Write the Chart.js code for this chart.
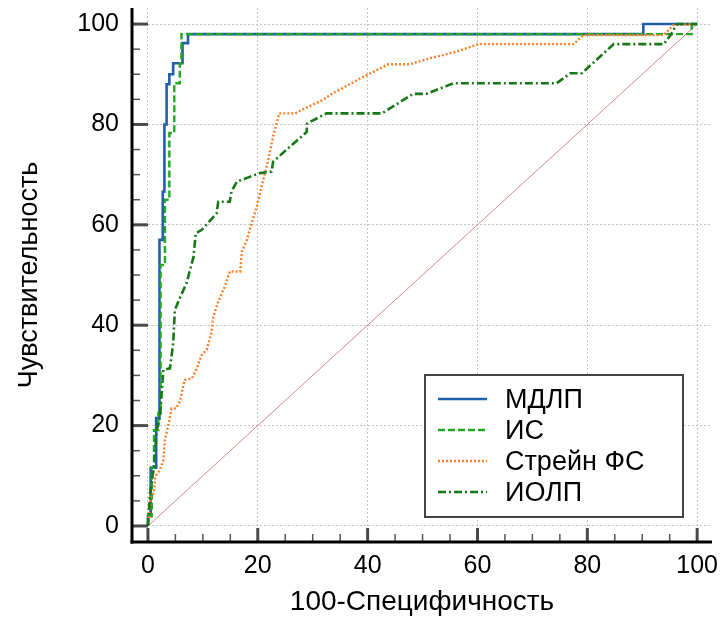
<!DOCTYPE html>
<html><head><meta charset="utf-8">
<script src="https://cdn.jsdelivr.net/npm/chart.js@4"></script>
<style>html,body{margin:0;padding:0;background:#fff}</style>
</head><body>
<canvas id="c" width="722" height="621"></canvas>
<script>
// ---- data ----
const tickValues = [0, 20, 40, 60, 80, 100];
const minorTickValues = [5, 10, 15, 25, 30, 35, 45, 50, 55, 65, 70, 75, 85, 90, 95];

const seriesNames = ['МДЛП', 'ИС', 'Стрейн ФС', 'ИОЛП'];

const mdlpX = [0, 0, 0.5, 0.5, 1.5, 1.5, 2.1, 2.1, 2.7, 2.7, 3.0, 3.0, 3.4, 3.4, 3.9, 3.9, 4.6, 4.6, 6.3, 6.3, 7.3, 7.3, 90.2, 90.2, 100];
const mdlpY = [0, 2, 2, 11.6, 11.6, 21.5, 21.5, 57, 57, 66.6, 66.6, 80, 80, 88, 88, 90, 90, 92.2, 92.2, 96.2, 96.2, 98, 98, 100, 100];

const isX = [0, 0, 0.7, 0.7, 1.1, 1.1, 1.9, 1.9, 2.3, 2.3, 3.1, 3.1, 3.9, 3.9, 4.8, 4.8, 5.8, 5.8, 6.1, 6.1, 99, 99, 100];
const isY = [0, 2, 2, 11.6, 11.6, 19.1, 19.1, 22.5, 22.5, 52, 52, 65, 65, 78.3, 78.3, 88.2, 88.2, 92.2, 92.2, 98, 98, 100, 100];

const strainX = [0, 0.5, 1.1, 1.3, 2.2, 2.8, 3.1, 3.9, 4.3, 5.1, 5.8, 6.7, 8.0, 8.9, 9.8, 10.7, 11.6, 11.9, 12.8, 14.0, 14.9, 16.8, 17.1, 18.0, 18.9, 19.8, 20.4, 21.3, 21.9, 22.8, 23.4, 23.9, 26.8, 28.0, 31.9, 33.2, 39.2, 43.8, 47.7, 51.4, 56.2, 60.2, 77.5, 79.3, 93.9, 95.7, 100];
const strainY = [0, 5.8, 6.6, 9.8, 11.2, 13.1, 17.1, 21.1, 23.4, 23.4, 24.8, 29.1, 29.4, 31.4, 34.1, 35.1, 38.7, 41.7, 44.7, 47.7, 50.7, 50.7, 54.6, 57.0, 60.3, 63.6, 66.3, 70.3, 72.9, 77.6, 80.2, 82.2, 82.2, 82.9, 84.9, 85.9, 89.5, 92.0, 92.0, 93.2, 94.5, 96.0, 96.0, 97.8, 97.8, 99.8, 100];

const iolpX = [0, 0.4, 0.9, 1.1, 1.6, 2.2, 2.8, 4.0, 4.6, 4.9, 5.8, 7.0, 8.3, 8.7, 9.8, 12.5, 12.8, 14.9, 15.2, 16.2, 20.4, 22.5, 22.8, 28.9, 29.0, 32.5, 42.6, 48.3, 50.7, 55.6, 74.4, 76.9, 79.0, 84.8, 93.9, 95.3, 96.3, 100];
const iolpY = [0, 6.5, 10.5, 11.5, 19.1, 21.8, 31.1, 31.4, 36.4, 43.0, 45.4, 48.3, 53.6, 58.3, 59.0, 62.3, 64.6, 64.6, 66.6, 68.6, 70.3, 70.6, 72.6, 78.5, 80.2, 82.2, 82.2, 86.1, 86.1, 88.2, 88.2, 90.2, 90.2, 96.0, 96.0, 98.0, 100, 100];

const refX = [0, 100];
const refY = [0, 100];

const xTitle = '100-Специфичность';
const yTitle = 'Чувствительность';

// ---- build ----
const pts = (xs, ys) => xs.map((x, i) => ({x: x, y: ys[i]}));
const FONT = "'Liberation Sans', Arial, sans-serif";

const datasets = [
  {label: 'ref', data: pts(refX, refY), borderColor: '#d08a8a', borderWidth: 1, order: 5},
  {label: seriesNames[0], data: pts(mdlpX, mdlpY), borderColor: '#1f5fab', borderWidth: 2.6, order: 4},
  {label: seriesNames[1], data: pts(isX, isY), borderColor: '#22a822', borderWidth: 2.4, borderDash: [7, 3], order: 3},
  {label: seriesNames[2], data: pts(strainX, strainY), borderColor: '#ff7f27', borderWidth: 2.4, borderDash: [2, 2], order: 2},
  {label: seriesNames[3], data: pts(iolpX, iolpY), borderColor: '#177817', borderWidth: 2.6, borderDash: [8, 3, 2, 3], order: 1}
];
datasets.forEach(d => { d.showLine = true; d.pointRadius = 0; d.tension = 0; d.fill = false; });

const axesPlugin = {
  id: 'axesDraw',
  afterDraw(chart) {
    const ctx = chart.ctx, a = chart.chartArea;
    const xs = chart.scales.x, ys = chart.scales.y;
    ctx.save();
    // minor ticks
    ctx.strokeStyle = '#555'; ctx.lineWidth = 1.5;
    minorTickValues.forEach(v => {
      const py = ys.getPixelForValue(v);
      ctx.beginPath(); ctx.moveTo(a.left, py); ctx.lineTo(a.left + 8, py); ctx.stroke();
      const px = xs.getPixelForValue(v);
      ctx.beginPath(); ctx.moveTo(px, a.bottom); ctx.lineTo(px, a.bottom - 8); ctx.stroke();
    });
    // major ticks
    ctx.strokeStyle = '#4a4a4a'; ctx.lineWidth = 3;
    tickValues.forEach(v => {
      const py = ys.getPixelForValue(v);
      ctx.beginPath(); ctx.moveTo(a.left, py); ctx.lineTo(a.left + 16, py); ctx.stroke();
      const px = xs.getPixelForValue(v);
      ctx.beginPath(); ctx.moveTo(px, a.bottom); ctx.lineTo(px, a.bottom - 14); ctx.stroke();
    });
    // axis lines
    ctx.strokeStyle = '#000'; ctx.lineWidth = 3;
    ctx.beginPath(); ctx.moveTo(a.left, a.top); ctx.lineTo(a.left, a.bottom + 1.5); ctx.stroke();
    ctx.beginPath(); ctx.moveTo(a.left - 1.5, a.bottom); ctx.lineTo(a.right, a.bottom); ctx.stroke();

    // legend box
    const bx = a.left + 293, by = a.top + 367, bw = 258, bh = 142;
    ctx.fillStyle = '#fff'; ctx.fillRect(bx, by, bw, bh);
    ctx.strokeStyle = '#444'; ctx.lineWidth = 2; ctx.strokeRect(bx, by, bw, bh);
    ctx.font = '27px ' + FONT; ctx.fillStyle = '#000'; ctx.textBaseline = 'alphabetic'; ctx.textAlign = 'left';
    const rows = [1, 2, 3, 4];
    rows.forEach((di, i) => {
      const ds = chart.data.datasets[di];
      const cy = by + 24 + i * 31;
      ctx.strokeStyle = ds.borderColor; ctx.lineWidth = 2.4;
      ctx.setLineDash(ds.borderDash || []);
      ctx.beginPath(); ctx.moveTo(bx + 13, cy); ctx.lineTo(bx + 62, cy); ctx.stroke();
      ctx.setLineDash([]);
      ctx.fillText(ds.label, bx + 80, cy + 9);
    });
    ctx.restore();
  }
};

const gridColor = '#c4c4c4';
new Chart(document.getElementById('c'), {
  type: 'scatter',
  data: {datasets: datasets},
  plugins: [axesPlugin],
  options: {
    responsive: false, animation: false, events: [],
    layout: {padding: {top: 8, right: 10, left: 0, bottom: 0}},
    plugins: {legend: {display: false}, tooltip: {enabled: false}},
    scales: {
      x: {
        type: 'linear', min: -2.9, max: 102.7,
        afterBuildTicks: s => { s.ticks = tickValues.map(v => ({value: v})); },
        afterFit: s => { s.height = 79; s.paddingLeft = 0; s.paddingRight = 0; s.paddingTop = 0; s.paddingBottom = 0; },
        grid: {color: gridColor, lineWidth: 1, drawTicks: false},
        border: {display: false, dash: [2, 2]},
        ticks: {font: {family: FONT, size: 25}, color: '#000', padding: 9, maxRotation: 0, autoSkip: false},
        title: {display: true, text: xTitle, color: '#000', font: {family: FONT, size: 28}, padding: {top: 0, bottom: 2}}
      },
      y: {
        type: 'linear', min: -3.19, max: 103.2,
        afterBuildTicks: s => { s.ticks = tickValues.map(v => ({value: v})); },
        afterFit: s => { s.width = 132; s.paddingLeft = 0; s.paddingRight = 0; s.paddingTop = 0; s.paddingBottom = 0; },
        grid: {color: gridColor, lineWidth: 1, drawTicks: false},
        border: {display: false, dash: [2, 2]},
        ticks: {font: {family: FONT, size: 25}, color: '#000', padding: 13, autoSkip: false},
        title: {display: true, text: yTitle, color: '#000', font: {family: FONT, size: 27}, padding: {top: 13, bottom: 0}}
      }
    }
  }
});
</script>
</body></html>
